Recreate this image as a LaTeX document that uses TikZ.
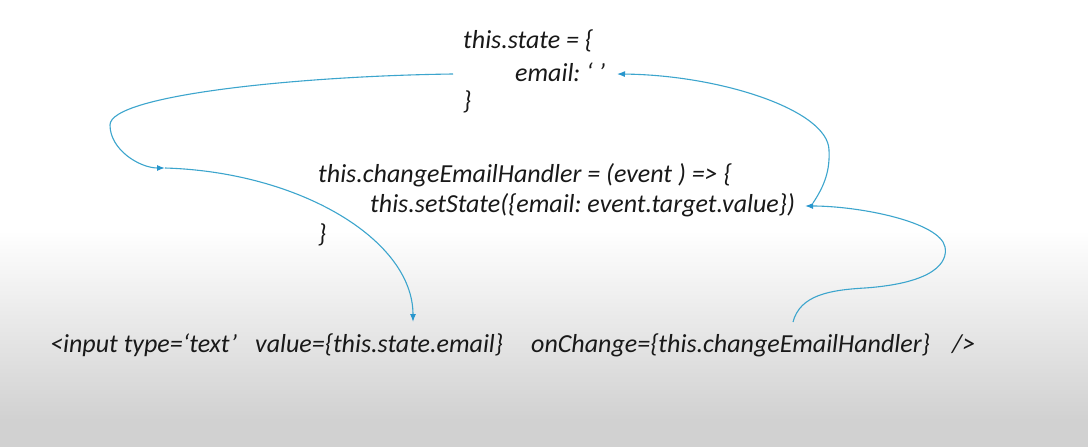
\documentclass[tikz,border=0pt]{standalone}
\usepackage{fontspec}
\setmainfont{Carlito}
\usetikzlibrary{arrows.meta}
\frenchspacing
\definecolor{flow}{RGB}{60,165,205}
\definecolor{flowtip}{RGB}{40,150,205}
\tikzset{
  code/.style={anchor=base west, inner sep=0pt, font=\fontsize{26}{30}\selectfont\itshape\frenchspacing, text=black!90},
  link/.style={draw=flow, line width=1.1pt, -{Latex[length=8pt,width=6pt,color=flowtip]}}
}
\begin{document}
\begin{tikzpicture}[x=1pt,y=-1pt]
\useasboundingbox (0,0) rectangle (1088,447);
\fill[white] (0,0) rectangle (1088,232);
\shade[top color=white, bottom color=black!18] (0,230) rectangle (1088,420);
\fill[black!18] (0,419) rectangle (1088,447);

\node[code] (s1) at (463,48) {this.state = \{};
\node[code] (s2) at (515,81) {email: ‘ ’};
\node[code] (s3) at (463,109) {\}};
\node[code] (h1) at (318,182) {this.changeEmailHandler = (event ) => \{};
\node[code] (h2) at (370,212) {this.setState(\{email: event.target.value\})};
\node[code] (h3) at (318,242) {\}};
\node[code] (i1) at (50,352) {<input type=‘text’};
\node[code] (i2) at (255,352) {value=\{this.state.email\}};
\node[code] (i3) at (531,352) {onChange=\{this.changeEmailHandler\}};
\node[code] (i4) at (952,352) {/>};

\coordinate (a1) at (453,74);
\coordinate (a2) at (165,168);
\coordinate (a3) at (413,322);
\coordinate (b1) at (793,322);
\coordinate (b2) at (805,206);
\coordinate (b3) at (813,203);
\coordinate (b4) at (617,74);

\path[link] (a1) .. controls (300,76) and (110,95) .. (110,125)
  .. controls (110,150) and (140,168) .. (a2);
\path[link] (a2) .. controls (300,172) and (413,240) .. (a3);
\path[link] (b1) .. controls (800,295) and (830,290) .. (865,288)
  .. controls (935,283) and (948,262) .. (945,247)
  .. controls (940,222) and (860,206) .. (b2);
\path[link] (b3) .. controls (825,185) and (830,170) .. (829,150)
  .. controls (828,110) and (720,75) .. (b4);
\end{tikzpicture}
\end{document}
